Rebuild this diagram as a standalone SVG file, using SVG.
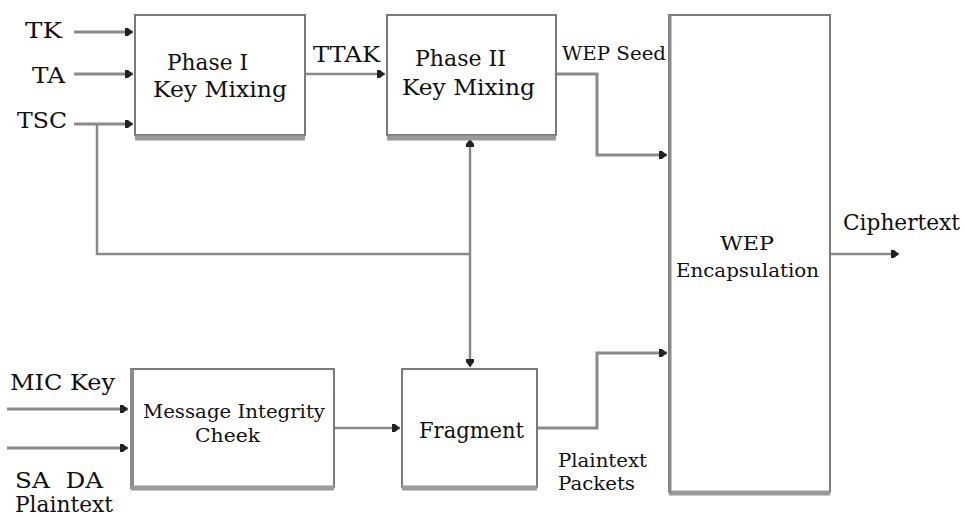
<svg xmlns="http://www.w3.org/2000/svg" width="965" height="517" viewBox="0 0 965 517">
<style>
.box{fill:#fff;stroke:#7a7a7a;stroke-width:2}
.sh{stroke:#9a9a9a;stroke-width:5;fill:none}
.ln{fill:none;stroke:#8a8a8a;stroke-width:3}
.lt{fill:none;stroke:#8a8a8a;stroke-width:2.5}
.t{font-family:'DejaVu Serif','Liberation Serif',serif;fill:#111;font-size:22px}
.s{font-size:19px}
</style>
<defs>
<marker id="ah" markerUnits="userSpaceOnUse" markerWidth="10" markerHeight="10" viewBox="0 0 10 10" refX="9" refY="5" orient="auto">
<path d="M1,1 L4,1 L9,5 L4,9 L1,9 Z" fill="#222"/>
</marker>
</defs>
<rect width="965" height="517" fill="#fff"/>
<g id="connectors">
<line class="ln" x1="74" y1="32" x2="133" y2="32" marker-end="url(#ah)"/>
<line class="ln" x1="74" y1="74" x2="133" y2="74" marker-end="url(#ah)"/>
<line class="ln" x1="74" y1="124" x2="133" y2="124" marker-end="url(#ah)"/>
<polyline class="lt" points="97,124 97,254 470,254"/>
<line class="lt" x1="470" y1="254" x2="470" y2="139" marker-end="url(#ah)"/>
<line class="lt" x1="470" y1="254" x2="470" y2="367" marker-end="url(#ah)"/>
<line class="lt" x1="305" y1="74" x2="385" y2="74" marker-end="url(#ah)"/>
<polyline class="ln" points="556,74 597,74 597,155 667,155" marker-end="url(#ah)"/>
<polyline class="ln" points="537,428 597,428 597,353 667,353" marker-end="url(#ah)"/>
<line class="lt" x1="334" y1="428" x2="400" y2="428" marker-end="url(#ah)"/>
<line class="ln" x1="7" y1="409" x2="128" y2="409" marker-end="url(#ah)"/>
<line class="ln" x1="7" y1="448" x2="128" y2="448" marker-end="url(#ah)"/>
<line class="lt" x1="830" y1="254" x2="899" y2="254" marker-end="url(#ah)"/>
</g>
<g id="phase1">
<rect class="box" x="135" y="15" width="170" height="120"/>
<line class="sh" x1="135" y1="138" x2="305" y2="138"/>
<text class="t" x="167" y="70" textLength="81" lengthAdjust="spacingAndGlyphs">Phase I</text>
<text class="t" x="153" y="97" textLength="134" lengthAdjust="spacingAndGlyphs">Key Mixing</text>
</g>
<g id="phase2">
<rect class="box" x="387" y="15" width="169" height="120"/>
<line class="sh" x1="387" y1="138" x2="556" y2="138"/>
<text class="t" x="415" y="66" textLength="91" lengthAdjust="spacingAndGlyphs">Phase II</text>
<text class="t" x="402" y="95" textLength="133" lengthAdjust="spacingAndGlyphs">Key Mixing</text>
</g>
<g id="wep">
<rect class="box" x="669" y="15" width="161" height="477"/>
<line class="sh" x1="669" y1="493" x2="830" y2="493"/>
<line x1="670" y1="15" x2="670" y2="493" stroke="#8a8a8a" stroke-width="3"/>
<text class="t s" x="720" y="250" textLength="54" lengthAdjust="spacingAndGlyphs">WEP</text>
<text class="t s" x="676" y="277" textLength="143" lengthAdjust="spacingAndGlyphs">Encapsulation</text>
</g>
<g id="mic">
<rect class="box" x="131" y="369" width="203" height="118"/>
<line x1="132" y1="369" x2="132" y2="489" stroke="#8a8a8a" stroke-width="4"/>
<line class="sh" x1="131" y1="488" x2="334" y2="488"/>
<text class="t s" x="143" y="418" textLength="182" lengthAdjust="spacingAndGlyphs">Message Integrity</text>
<text class="t s" x="195" y="442" textLength="65" lengthAdjust="spacingAndGlyphs">Cheek</text>
</g>
<g id="fragment">
<rect class="box" x="402" y="369" width="135" height="118"/>
<line class="sh" x1="402" y1="488" x2="537" y2="488"/>
<text class="t" x="419" y="438" textLength="105" lengthAdjust="spacingAndGlyphs">Fragment</text>
</g>
<g id="labels">
<text class="t" x="25" y="38" textLength="37" lengthAdjust="spacingAndGlyphs">TK</text>
<text class="t" x="32" y="83" textLength="33" lengthAdjust="spacingAndGlyphs">TA</text>
<text class="t" x="17" y="128" textLength="50" lengthAdjust="spacingAndGlyphs">TSC</text>
<text class="t" x="313" y="62" textLength="67" lengthAdjust="spacingAndGlyphs">TTAK</text>
<text class="t s" x="562" y="60" textLength="104" lengthAdjust="spacingAndGlyphs">WEP Seed</text>
<text class="t" x="843" y="230" textLength="117" lengthAdjust="spacingAndGlyphs">Ciphertext</text>
<text class="t" x="10" y="390" textLength="105" lengthAdjust="spacingAndGlyphs">MIC Key</text>
<text class="t" x="15" y="488" xml:space="preserve" textLength="88" lengthAdjust="spacingAndGlyphs">SA  DA</text>
<text class="t" x="15" y="512" textLength="98" lengthAdjust="spacingAndGlyphs">Plaintext</text>
<text class="t s" x="558" y="467" textLength="89" lengthAdjust="spacingAndGlyphs">Plaintext</text>
<text class="t s" x="558" y="490" textLength="77" lengthAdjust="spacingAndGlyphs">Packets</text>
</g>
</svg>
